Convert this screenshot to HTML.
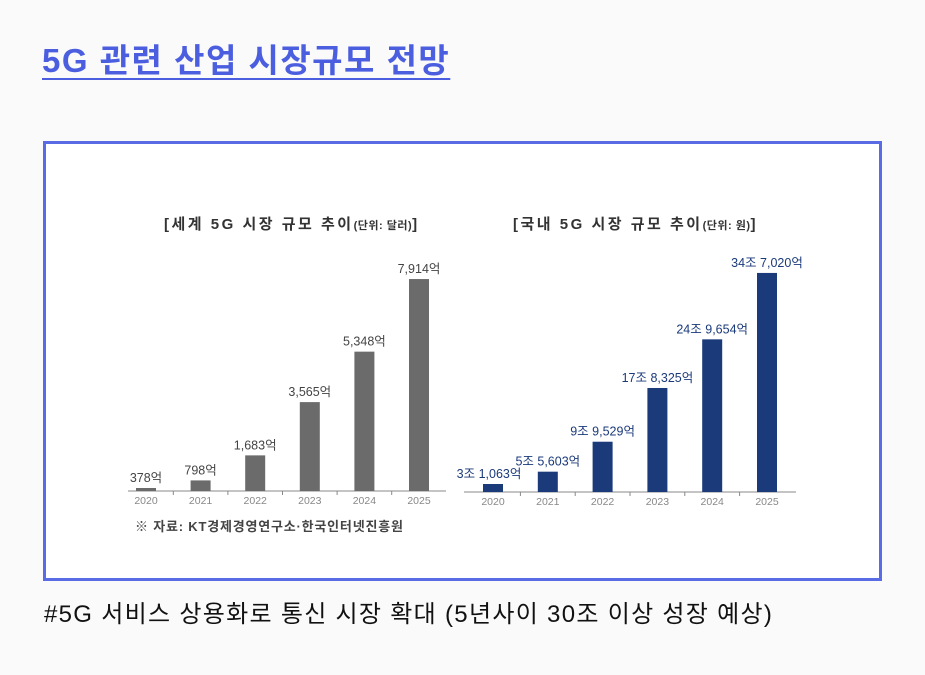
<!DOCTYPE html>
<html><head><meta charset="utf-8"><style>
body{margin:0;width:925px;height:675px;background:#fafafa;font-family:"Liberation Sans","Noto Sans CJK KR",sans-serif;position:relative;overflow:hidden}
#title{position:absolute;left:42px;top:34px;font-size:33px;letter-spacing:1.5px;font-weight:bold;color:#4b5ee0;text-decoration:underline;text-underline-offset:6px;text-decoration-thickness:2px;margin:0}
#frame{position:absolute;left:43px;top:141px;width:833px;height:434px;border:3px solid #5a6be6;background:#fff}
#caption{position:absolute;left:44px;top:594px;font-size:24px;letter-spacing:1.3px;color:#111}
svg text{font-family:"Liberation Sans","Noto Sans CJK KR",sans-serif}
</style></head><body>
<h1 id="title">5G 관련 산업 시장규모 전망</h1>
<div id="frame"></div>
<svg id="chart" width="925" height="675" style="position:absolute;left:0;top:0">
<text x="164" y="229" font-size="15" font-weight="bold" letter-spacing="2.5" fill="#333">[세계 5G 시장 규모 추이<tspan font-size="11" letter-spacing="0.5">(단위: 달러)</tspan>]</text>
<text x="513" y="229" font-size="15" font-weight="bold" letter-spacing="2.5" fill="#333">[국내 5G 시장 규모 추이<tspan font-size="11" letter-spacing="0.5">(단위: 원)</tspan>]</text>
<text x="135" y="531" font-size="13" font-weight="bold" letter-spacing="0.8" fill="#444">※ 자료: KT경제경영연구소·한국인터넷진흥원</text>
</svg>
<div id="caption">#5G 서비스 상용화로 통신 시장 확대 (5년사이 30조 이상 성장 예상)</div>
<script>
const years=["2020","2021","2022","2023","2024","2025"];
const worldValues=[378,798,1683,3565,5348,7914];
const worldLabels=["378억","798억","1,683억","3,565억","5,348억","7,914억"];
const koreaValues=[3.1063,5.5603,9.9529,17.8325,24.9654,34.7020];
const koreaLabels=["3조 1,063억","5조 5,603억","9조 9,529억","17조 8,325억","24조 9,654억","34조 7,020억"];
const svg=document.getElementById('chart');
const NS='http://www.w3.org/2000/svg';
function mk(t,a){const e=document.createElementNS(NS,t);for(const k in a)e.setAttribute(k,a[k]);svg.appendChild(e);return e;}
function draw(cfg){
  const yS=v=>cfg.base-Math.max(cfg.minH,v*cfg.scale-cfg.off);
  const xS=i=>cfg.x0+i*cfg.step;
  const ax=mk('line',{x1:cfg.ax0,x2:cfg.ax1,y1:cfg.base,y2:cfg.base,stroke:'#888','stroke-width':1});
  
  
  cfg.vals.forEach((v,i)=>{
    const cx=xS(i);const top=yS(v);
    const r=mk('rect',{x:cx-10,y:top,width:20,height:cfg.base-top,fill:cfg.color});
    
    
    const lb=mk('text',{x:cx+(i==0?cfg.firstOff:0),y:top-6,'font-size':12.5,'text-anchor':'middle',fill:cfg.lblColor});
    lb.textContent=cfg.labels[i];
    
    
    const yt=mk('text',{x:cx,y:cfg.base+13,'font-size':10.5,'text-anchor':'middle',fill:'#888'});
    yt.textContent=years[i];
    
    
    if(i>0){const tk=mk('line',{x1:cx-cfg.step/2,x2:cx-cfg.step/2,y1:cfg.base,y2:cfg.base+4,stroke:'#888'});
    
    }
  });
}
draw({name:'world',vals:worldValues,labels:worldLabels,base:491,scale:0.0283,off:12,minH:3,x0:146,step:54.6,ax0:128,ax1:446,color:'#6b6b6b',lblColor:'#444',firstOff:0});
draw({name:'korea',vals:koreaValues,labels:koreaLabels,base:492,scale:6.82,off:17.6,minH:8,x0:493,step:54.8,ax0:464,ax1:796,color:'#1b3a7a',lblColor:'#1b3a7a',firstOff:-4});
</script>
</body></html>
